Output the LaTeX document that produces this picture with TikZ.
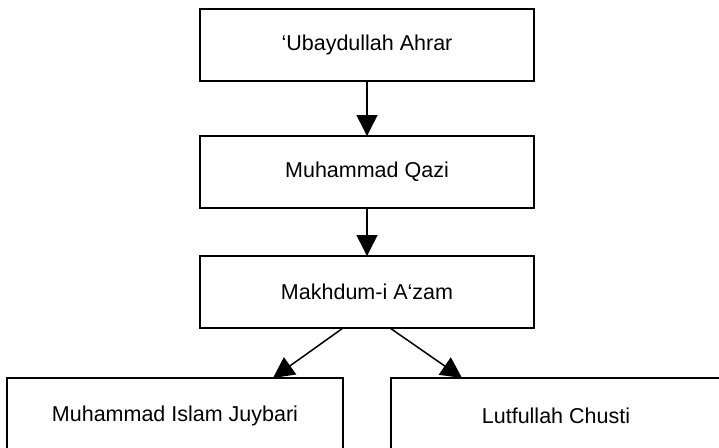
\documentclass[tikz,border=0pt]{standalone}
\usepackage{fontspec}
\setmainfont{Liberation Sans}
\usetikzlibrary{arrows.meta,positioning}
\tikzset{
  % Base box
  PB/.style={rectangle,draw,line width=1.8pt,outer sep=0pt,
             minimum width=334pt,minimum height=72pt,
             text centered,align=center,
             font=\fontsize{21.5}{25}\selectfont},
  % Arrow
  arr/.style={-{Triangle[length=21pt,width=21pt]},line width=1.5pt}
}
\begin{document}
\begin{tikzpicture}[x=1pt,y=-1pt]
  \useasboundingbox (0,0) rectangle (719,447);
  \clip (0,0) rectangle (719,447);

  %------ CHAIN ------
  \node[PB] (ahrar) at (367,45)  {‘Ubaydullah Ahrar};
  \node[PB] (qazi)  at (367,172) {Muhammad Qazi};
  \node[PB] (azam)  at (367,292) {Makhdum-i A‘zam};

  %------ SUCCESSORS ------
  \node[PB,minimum width=336pt,minimum height=76pt] (islam)  at (175,416)   {Muhammad Islam Juybari};
  \node[PB,minimum width=330pt,minimum height=76pt] (chusti) at (556,416) {Lutfullah Chusti};

  % chain arrows
  \draw[arr] (ahrar) -- (qazi);
  \draw[arr] (qazi) -- (azam);

  % branch arrows
  \draw[arr] ([xshift=-24pt]azam.south) -- ([xshift=98pt]islam.north);
  \draw[arr] ([xshift=23pt]azam.south) -- ([xshift=-94pt]chusti.north);
\end{tikzpicture}
\end{document}
